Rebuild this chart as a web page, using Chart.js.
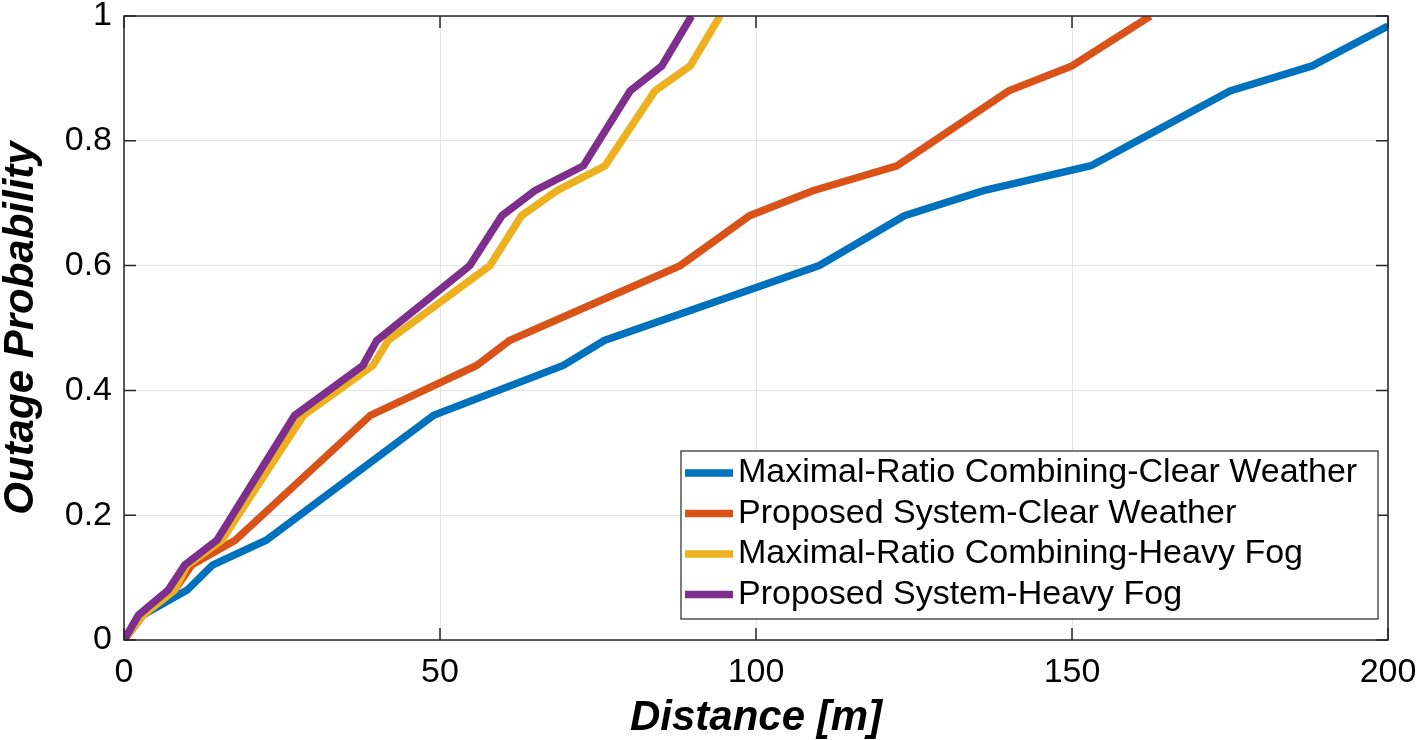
<!DOCTYPE html>
<html>
<head>
<meta charset="utf-8">
<script src="https://cdn.jsdelivr.net/npm/chart.js@4"></script>
<style>
  html, body { margin: 0; padding: 0; background: #fff; }
  #wrap { width: 1417px; height: 740px; }
</style>
</head>
<body>
<div id="wrap"><canvas id="outageChart" width="1417" height="740"></canvas></div>
<script>
// Outage probability vs. distance
const probLevels = [0, 0.04, 0.08, 0.12, 0.16, 0.36, 0.44, 0.48, 0.60, 0.68, 0.72, 0.76, 0.88, 0.92, 1.0];
const probMrcClear = [0, 0.04, 0.08, 0.12, 0.16, 0.36, 0.44, 0.48, 0.60, 0.68, 0.72, 0.76, 0.88, 0.92, 0.984];

const distMrcClear  = [0, 3, 10, 14, 22.5, 49, 69.5, 76, 110, 123.5, 136, 153, 175, 188, 200];
const distPropClear = [0, 3, 8, 10.7, 17.6, 39, 55.8, 61, 88, 99, 109, 122.3, 140, 150, 162.4];
const distMrcFog    = [0, 3, 8, 10, 15.5, 28.4, 39.4, 41.8, 57.9, 62.9, 68.5, 76.1, 84, 89.6, 94.3];
const distPropFog   = [0, 2.3, 7, 9.6, 14.7, 27, 37.8, 40, 54.7, 59.8, 65, 72.7, 80.1, 85.1, 89.8];

const seriesNames = [
    'Maximal-Ratio Combining-Clear Weather',
    'Proposed System-Clear Weather',
    'Maximal-Ratio Combining-Heavy Fog',
    'Proposed System-Heavy Fog'
];
const seriesColors = ['#0072BD', '#D95319', '#EDB120', '#7E2F8E'];

const xTicks = [0, 50, 100, 150, 200];
const yTicks = [0, 0.2, 0.4, 0.6, 0.8, 1];
const yTickLabels = ['0', '0.2', '0.4', '0.6', '0.8', '1'];

const pts = (xs, ys) => xs.map((x, i) => ({ x: x, y: ys[i] }));

const FONT = '"Liberation Sans", Arial, Helvetica, sans-serif';

// MATLAB style box, inward ticks and legend inside the axes
const matlabAxes = {
    id: 'matlabAxes',
    afterDatasetsDraw(chart) {
        const ctx = chart.ctx;
        const a = chart.chartArea;
        const xs = chart.scales.x, ys = chart.scales.y;
        const tl = 12;
        ctx.save();
        ctx.strokeStyle = '#262626';
        ctx.lineWidth = 1.5;
        ctx.strokeRect(a.left, a.top, a.right - a.left, a.bottom - a.top);
        ctx.beginPath();
        xTicks.forEach(v => {
            const px = xs.getPixelForValue(v);
            ctx.moveTo(px, a.bottom); ctx.lineTo(px, a.bottom - tl);
            ctx.moveTo(px, a.top); ctx.lineTo(px, a.top + tl);
        });
        yTicks.forEach(v => {
            const py = ys.getPixelForValue(v);
            ctx.moveTo(a.left, py); ctx.lineTo(a.left + tl, py);
            ctx.moveTo(a.right, py); ctx.lineTo(a.right - tl, py);
        });
        ctx.stroke();
        ctx.restore();
    },
    afterDraw(chart) {
        const ctx = chart.ctx;
        const box = { x: 681, y: 451, w: 697, h: 168 };
        ctx.save();
        ctx.fillStyle = '#fff';
        ctx.fillRect(box.x, box.y, box.w, box.h);
        ctx.strokeStyle = '#262626';
        ctx.lineWidth = 1.2;
        ctx.strokeRect(box.x, box.y, box.w, box.h);
        ctx.font = '34px ' + FONT;
        ctx.textBaseline = 'middle';
        ctx.textAlign = 'left';
        seriesNames.forEach((name, i) => {
            const y = 473 + i * 40.5;
            ctx.strokeStyle = seriesColors[i];
            ctx.lineWidth = 7.5;
            ctx.beginPath();
            ctx.moveTo(685, y); ctx.lineTo(733, y);
            ctx.stroke();
            ctx.fillStyle = '#000';
            ctx.fillText(name, 738, y);
        });
        ctx.restore();
    }
};

const lineSet = (i, data) => ({
    label: seriesNames[i],
    data: data,
    borderColor: seriesColors[i],
    backgroundColor: seriesColors[i],
    borderWidth: 7.5,
    pointRadius: 0,
    tension: 0,
    fill: false,
    order: 3 - i
});

new Chart(document.getElementById('outageChart'), {
    type: 'line',
    data: {
        datasets: [
            lineSet(0, pts(distMrcClear, probMrcClear)),
            lineSet(1, pts(distPropClear, probLevels)),
            lineSet(2, pts(distMrcFog, probLevels)),
            lineSet(3, pts(distPropFog, probLevels))
        ]
    },
    options: {
        responsive: false,
        animation: false,
        layout: { padding: { top: 16, right: 29, left: 0, bottom: 0 } },
        plugins: { legend: { display: false }, tooltip: { enabled: false } },
        scales: {
            x: {
                type: 'linear',
                min: 0, max: 200,
                afterFit: s => { s.height = 100; s.paddingLeft = 0; s.paddingRight = 0; },
                afterBuildTicks: s => { s.ticks = xTicks.map(v => ({ value: v })); },
                grid: { color: '#e3e3e3', lineWidth: 1, drawTicks: false },
                border: { display: false },
                ticks: { color: '#000', padding: 12, font: { family: FONT, size: 34 } },
                title: {
                    display: true, text: 'Distance [m]', color: '#000',
                    font: { family: FONT, size: 42, weight: 'bold', style: 'italic', lineHeight: 1 },
                    padding: { top: 0, bottom: 1 }
                }
            },
            y: {
                type: 'linear',
                min: 0, max: 1,
                afterFit: s => { s.width = 124; s.paddingTop = 0; s.paddingBottom = 0; },
                afterBuildTicks: s => { s.ticks = yTicks.map(v => ({ value: v })); },
                grid: { color: '#e3e3e3', lineWidth: 1, drawTicks: false },
                border: { display: false },
                ticks: {
                    color: '#000', padding: 12, font: { family: FONT, size: 34 },
                    callback: (v) => yTickLabels[yTicks.indexOf(v)]
                },
                title: {
                    display: true, text: 'Outage Probability', color: '#000',
                    font: { family: FONT, size: 42, weight: 'bold', style: 'italic', lineHeight: 1 },
                    padding: { top: 0, bottom: 0 }
                }
            }
        }
    },
    plugins: [matlabAxes]
});
</script>
</body>
</html>
